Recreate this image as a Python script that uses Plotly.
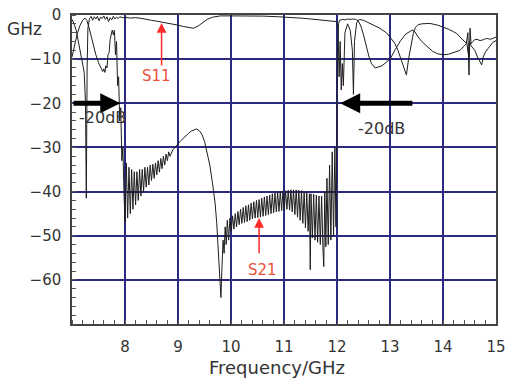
import plotly.graph_objects as go

# ---------------- data ----------------
s11_freq = [7.00, 7.04, 7.08, 7.12, 7.16, 7.20, 7.23, 7.255, 7.27, 7.285, 7.30, 7.33, 7.36, 7.39,
            7.42, 7.45, 7.48, 7.51, 7.54, 7.57, 7.60, 7.63, 7.66, 7.69, 7.72, 7.75, 7.78, 7.81,
            7.84, 7.87, 7.90, 7.95, 8.00, 8.10, 8.20, 8.30, 8.40, 8.50, 8.60, 8.70, 8.80, 8.90,
            9.00, 9.10, 9.20, 9.29, 9.38, 9.46, 9.55, 9.65, 9.80, 10.0, 10.3, 10.6, 10.9, 11.1,
            11.37, 11.5, 11.68, 11.85, 11.99, 12.02, 12.04, 12.06, 12.08, 12.10, 12.12, 12.15,
            12.20, 12.25, 12.29, 12.31, 12.33, 12.37, 12.42, 12.50, 12.62, 12.72, 12.81, 12.94,
            13.02, 13.09, 13.15, 13.19, 13.24, 13.28, 13.31, 13.35, 13.38, 13.41, 13.44, 13.48,
            13.53, 13.60, 13.75, 13.90, 14.00, 14.10, 14.20, 14.26, 14.32, 14.38, 14.44, 14.47,
            14.49, 14.51, 14.53, 14.56, 14.60, 14.64, 14.70, 14.76, 14.82, 14.90, 14.95, 15.00]
s11_db = [-1.0, -2.0, -3.5, -6.0, -8.5, -11.0, -13.0, -20.0, -41.5, -12.0, -3.0, -0.8, -0.3, -1.2,
          -0.4, -0.9, -0.3, -1.3, -0.5, -0.8, -0.2, -1.0, -0.4, -1.5, -0.6, -1.1, -0.3, -0.9,
          -0.5, -0.8, -0.4, -0.6, -0.5, -0.7, -0.6, -0.75, -0.9, -1.2, -1.4, -1.6, -1.8, -2.1,
          -2.3, -2.6, -2.9, -3.0, -2.5, -1.7, -1.0, -0.5, -0.2, -0.2, -0.15, -0.25, -0.4, -0.5,
          -0.75, -0.9, -1.1, -1.3, -1.5, -3.0, -14.0, -6.0, -17.0, -11.0, -16.0, -4.0,
          -2.0, -3.5, -8.0, -18.0, -6.0, -1.8, -1.0, -1.2, -1.9, -2.4, -3.0, -4.1,
          -5.2, -6.4, -8.0, -9.5, -11.5, -12.5, -13.6, -10.0, -8.0, -6.0, -4.2, -2.8,
          -2.2, -2.0, -1.9, -2.3, -2.7, -3.2, -3.8, -4.2, -5.0, -5.8, -6.4, -4.0,
          -13.6, -3.0, -6.5, -6.0, -5.6, -5.5, -5.8, -5.6, -5.3, -5.5, -5.2, -5.0]

s21_freq = [7.00, 7.05, 7.10, 7.15, 7.20, 7.245, 7.28, 7.32, 7.36, 7.40, 7.45, 7.50, 7.55, 7.58,
            7.60, 7.62, 7.64, 7.66, 7.68, 7.70, 7.72, 7.74, 7.76, 7.78, 7.80, 7.82, 7.84, 7.86,
            7.88, 7.90, 7.92, 7.94, 7.96, 7.98, 8.00, 8.025, 8.05, 8.075, 8.10, 8.125, 8.15,
            8.175, 8.20, 8.225, 8.25, 8.275, 8.30, 8.325, 8.35, 8.375, 8.40, 8.425, 8.45, 8.475,
            8.50, 8.525, 8.55, 8.575, 8.60, 8.625, 8.65, 8.675, 8.70, 8.725, 8.75, 8.775, 8.80,
            8.825, 8.85, 8.90, 8.95, 9.00, 9.05, 9.10, 9.15, 9.20, 9.25, 9.30, 9.35, 9.40, 9.45,
            9.50, 9.55, 9.60, 9.65, 9.70, 9.73, 9.76, 9.785, 9.81, 9.83, 9.85, 9.87, 9.89, 9.91,
            9.93, 9.955, 9.98, 10.005, 10.03, 10.055, 10.08, 10.105, 10.13, 10.155, 10.18,
            10.205, 10.23, 10.255, 10.28, 10.305, 10.33, 10.355, 10.38, 10.405, 10.43, 10.455,
            10.48, 10.505, 10.53, 10.555, 10.58, 10.605, 10.63, 10.655, 10.68, 10.705, 10.73,
            10.755, 10.78, 10.805, 10.83, 10.855, 10.88, 10.905, 10.93, 10.955, 10.98, 11.005,
            11.03, 11.055, 11.08, 11.105, 11.13, 11.155, 11.18, 11.205, 11.23, 11.255, 11.28,
            11.305, 11.33, 11.355, 11.38, 11.405, 11.43, 11.455, 11.48, 11.495, 11.51, 11.535,
            11.56, 11.585, 11.61, 11.635, 11.66, 11.685, 11.71, 11.735, 11.75, 11.77, 11.79,
            11.81, 11.835, 11.86, 11.885, 11.91, 11.935, 11.96, 11.98, 11.995, 12.01, 12.03,
            12.05, 12.10, 12.15, 12.20, 12.25, 12.30, 12.35, 12.40, 12.45, 12.50, 12.55, 12.60,
            12.65, 12.72, 12.85, 13.00, 13.10, 13.20, 13.30, 13.42, 13.47, 13.52, 13.60, 13.69,
            13.80, 13.90, 14.00, 14.10, 14.20, 14.32, 14.40, 14.45, 14.48, 14.50, 14.53, 14.56,
            14.60, 14.65, 14.69, 14.73, 14.76, 14.80, 14.85, 14.89, 14.94, 15.00]
s21_db = [-9.5, -6.5, -4.2, -2.4, -1.2, -0.7, -1.2, -2.8, -4.8, -6.8, -9.0, -10.8, -12.0, -12.8,
          -12.2, -13.0, -11.5, -12.0, -9.0, -8.5, -5.5, -4.5, -3.4, -4.5, -3.5, -9.0, -6.0, -16.0,
          -14.0, -24.0, -21.0, -33.0, -30.0, -40.0, -47.0, -33.5, -46.0, -34.5, -45.0, -35.0, -44.0,
          -35.5, -43.0, -35.5, -42.0, -35.0, -41.0, -35.0, -40.0, -34.5, -39.0, -34.5, -38.5, -34.0,
          -37.5, -33.8, -37.0, -33.5, -36.2, -33.0, -35.6, -32.5, -34.8, -32.0, -34.0, -31.5, -33.0,
          -31.0, -32.0, -30.6, -29.8, -29.2, -28.5, -27.9, -27.2, -26.8, -26.3, -26.0, -25.8, -26.2, -27.0,
          -28.6, -31.0, -34.0, -38.0, -42.6, -47.0, -54.0, -60.0, -64.0, -57.0, -51.0, -54.0, -48.0, -52.0,
          -46.5, -51.0, -46.0, -49.0, -45.5, -48.5, -45.0, -48.0, -44.5, -47.5, -44.0,
          -47.2, -43.6, -47.0, -43.2, -46.8, -43.0, -46.5, -42.6, -46.2, -42.3, -46.0,
          -42.0, -45.9, -41.8, -45.8, -41.5, -45.6, -41.2, -45.4, -41.0, -45.2, -40.8,
          -45.0, -40.5, -44.8, -40.3, -44.6, -40.1, -44.5, -40.0, -44.3, -39.9, -44.2,
          -39.8, -44.0, -39.7, -44.2, -39.6, -44.6, -39.6, -45.2, -39.6, -45.8, -39.7,
          -46.5, -39.8, -47.2, -40.0, -48.2, -40.2, -49.0, -40.5, -57.7, -40.5, -50.5,
          -40.6, -51.0, -40.8, -51.5, -41.0, -52.0, -41.0, -53.0, -57.0, -40.0, -52.5,
          -37.0, -52.0, -34.0, -51.0, -31.0, -50.0, -30.0, -48.0, -25.0, -8.0, -2.0,
          -1.2, -1.0, -1.1, -0.9, -1.0, -0.9, -1.0, -1.3, -2.5, -4.5, -7.0, -9.3,
          -11.0, -12.0, -11.5, -10.0, -7.8, -5.8, -4.3, -3.4, -3.8, -4.8, -6.0, -7.0,
          -8.2, -8.8, -9.0, -8.9, -8.5, -8.0, -7.0, -6.4, -9.0, -6.0, -7.0, -7.5,
          -8.0, -9.5, -10.4, -11.3, -9.5, -8.4, -7.6, -7.0, -6.2, -5.8]

x_ticks = [8, 9, 10, 11, 12, 13, 14, 15]
y_ticks = [0, -10, -20, -30, -40, -50, -60]

FONT = "DejaVu Sans"
TXT = "#333333"
GRID = "#2a2a80"

fig = go.Figure()
fig.add_trace(go.Scatter(x=s11_freq, y=s11_db, mode="lines", name="S11",
                         line=dict(color="#1e1e1e", width=1)))
fig.add_trace(go.Scatter(x=s21_freq, y=s21_db, mode="lines", name="S21",
                         line=dict(color="#1e1e1e", width=1)))

fig.update_layout(
    width=505, height=384,
    margin=dict(l=72, r=9, t=15, b=60, autoexpand=False),
    paper_bgcolor="white", plot_bgcolor="white",
    showlegend=False,
    font=dict(family=FONT, size=15, color=TXT),
)
fig.update_xaxes(
    range=[7, 15], tickvals=x_ticks, ticktext=[str(v) for v in x_ticks],
    showgrid=True, gridcolor=GRID, gridwidth=1.5, zeroline=False, automargin=False,
    showline=True, linecolor="#444444", linewidth=1.5, mirror=True,
    ticks="", ticklabelstandoff=8, ticklabeloverflow="allow",
    tickfont=dict(family=FONT, size=15, color=TXT),
    minor=dict(tick0=7, dtick=0.2, ticks="inside", ticklen=4, tickcolor="#555555", showgrid=False),
)
fig.update_yaxes(
    range=[-70, 0], tickvals=y_ticks,
    showgrid=True, gridcolor=GRID, gridwidth=1.5, zeroline=False, automargin=False,
    showline=True, linecolor="#444444", linewidth=1.5, mirror=True,
    ticks="", ticklabelstandoff=6, ticklabeloverflow="allow",
    tickfont=dict(family=FONT, size=15, color=TXT),
    minor=dict(tick0=0, dtick=2, ticks="inside", ticklen=4, tickcolor="#555555", showgrid=False),
)

ann = []
# black -20 dB arrows
ann.append(dict(x=7.91, y=-20, ax=7.0, ay=-20, xref="x", yref="y", axref="x", ayref="y",
                text="", showarrow=True, arrowhead=2, arrowsize=0.8, arrowwidth=5, arrowcolor="black"))
ann.append(dict(x=12.06, y=-20, ax=13.45, ay=-20, xref="x", yref="y", axref="x", ayref="y",
                text="", showarrow=True, arrowhead=2, arrowsize=0.8, arrowwidth=5, arrowcolor="black"))
ann.append(dict(x=7.57, y=-23.2, xref="x", yref="y", text="-20dB", showarrow=False,
                font=dict(family=FONT, size=16, color=TXT)))
ann.append(dict(x=12.84, y=-25.8, xref="x", yref="y", text="-20dB", showarrow=False,
                font=dict(family=FONT, size=16, color=TXT)))
# red S11 / S21 pointers
ann.append(dict(x=8.69, y=-1.8, ax=8.69, ay=-11.8, xref="x", yref="y", axref="x", ayref="y",
                text="", showarrow=True, arrowhead=2, arrowsize=1.3, arrowwidth=1.5, arrowcolor="#ff2a2a"))
ann.append(dict(x=8.59, y=-13.8, xref="x", yref="y", text="S11", showarrow=False,
                font=dict(family=FONT, size=15, color="#e8503a")))
ann.append(dict(x=10.53, y=-46, ax=10.53, ay=-54.3, xref="x", yref="y", axref="x", ayref="y",
                text="", showarrow=True, arrowhead=2, arrowsize=1.3, arrowwidth=1.5, arrowcolor="#ff2a2a"))
ann.append(dict(x=10.59, y=-57.7, xref="x", yref="y", text="S21", showarrow=False,
                font=dict(family=FONT, size=15, color="#e8503a")))
# axis texts
ann.append(dict(x=0.483, y=-0.142, xref="paper", yref="paper", text="Frequency/GHz",
                showarrow=False, xanchor="center", yanchor="middle",
                font=dict(family=FONT, size=18, color=TXT)))
ann.append(dict(x=-0.111, y=0.955, xref="paper", yref="paper", text="GHz",
                showarrow=False, xanchor="center", yanchor="middle",
                font=dict(family=FONT, size=17, color=TXT)))
fig.update_layout(annotations=ann)

fig.write_html("out.html", config={"displayModeBar": False},
               post_script="document.body.style.margin='0';document.body.style.overflow='hidden';")
